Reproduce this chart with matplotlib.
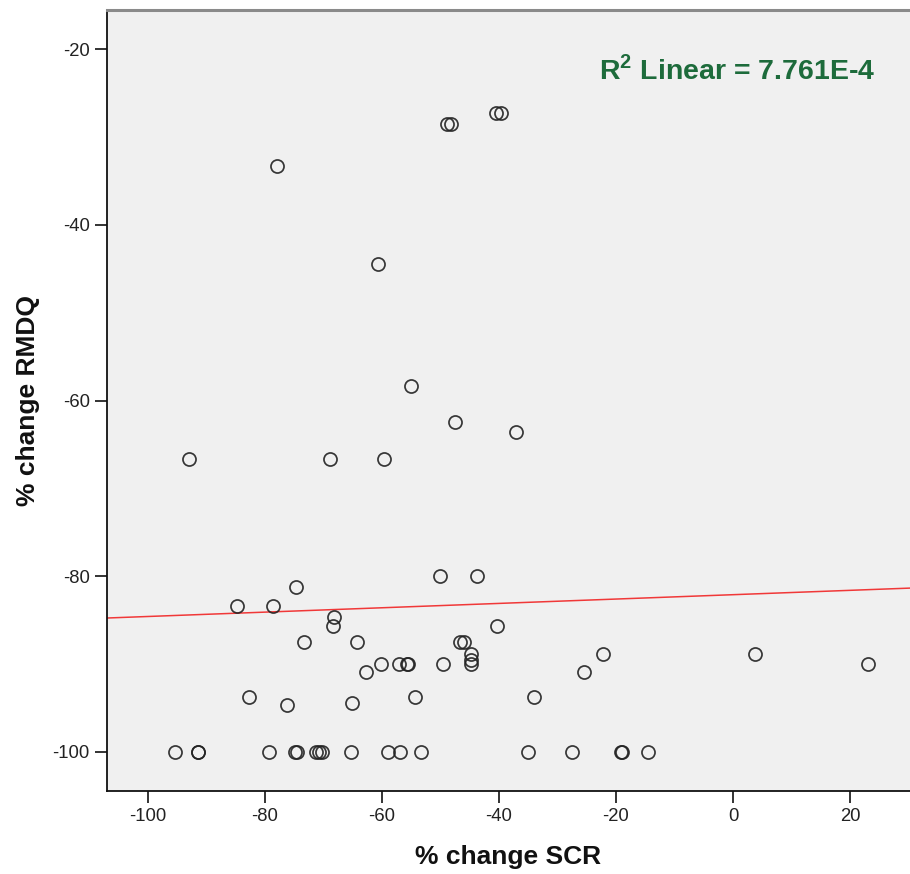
import matplotlib
matplotlib.use("Agg")
import matplotlib.pyplot as plt
import numpy as np

# ---- data ----
scr_change = [
    -50.1, -43.8, -74.7, -84.8, -78.6, -68.2, -68.4, -73.3, -64.3, -40.4,
    -46.7, -45.9, -44.8, -44.8, -44.7, -60.2, -57.1, -55.7, -55.5, -49.5,
    -62.8, -82.8, -76.2, -65.2, -54.3, -95.4, -91.5, -91.4, -79.3, -74.8,
    -74.6, -71.3, -70.7, -70.3, -65.3, -59.0, -56.9, -53.4, -22.2, -25.4,
    -34.0, 3.8, 23.1, -35.0, -27.5, -19.1, -19.0, -14.6, -77.9, -60.7,
    -55.0, -47.5, -37.1, -93.0, -68.9, -59.7, -48.9, -48.2, -40.5, -39.6,
]
rmdq_change = [
    -80.0, -80.0, -81.25, -83.33, -83.33, -84.6, -85.71, -87.5, -87.5, -85.71,
    -87.5, -87.5, -88.89, -89.5, -90.0, -90.0, -90.0, -90.0, -90.0, -90.0,
    -90.91, -93.75, -94.7, -94.44, -93.75, -100, -100, -100, -100, -100,
    -100, -100, -100, -100, -100, -100, -100, -100, -88.89, -90.91,
    -93.75, -88.89, -90.0, -100, -100, -100, -100, -100, -33.33, -44.44,
    -58.33, -62.5, -63.64, -66.67, -66.67, -66.67, -28.57, -28.57, -27.27, -27.27,
]
fit_intercept = -82.1
fit_slope = 0.0248
r2_label = "R$^2$ Linear = 7.761E-4"
x_label = "% change SCR"
y_label = "% change RMDQ"
x_ticks = [-100, -80, -60, -40, -20, 0, 20]
y_ticks = [-100, -80, -60, -40, -20]

plt.rcParams['font.family'] = ['Liberation Sans', 'DejaVu Sans']
plt.rcParams['axes.unicode_minus'] = False
plt.rcParams['mathtext.fontset'] = 'custom'
plt.rcParams['mathtext.rm'] = 'Liberation Sans:bold'
plt.rcParams['mathtext.bf'] = 'Liberation Sans:bold'

fig = plt.figure(figsize=(9.10, 8.74), dpi=100)
ax = fig.add_axes([107/910, (874-791)/874, 1 - 107/910, (791-10)/874])
ax.set_facecolor('#f0f0f0')

ax.plot(scr_change, rmdq_change, linestyle='none', marker='o', markersize=9.4,
        markerfacecolor='none', markeredgecolor='#222222', markeredgewidth=1.25,
        alpha=0.9, zorder=3)

ax.axline((0, fit_intercept), slope=fit_slope, color='#f03838', lw=1.1, zorder=2)

ax.set_xlim(-107.0, 30.26)
ax.set_ylim(-104.44, -15.56)
ax.set_xticks(x_ticks)
ax.set_yticks(y_ticks)
ax.tick_params(axis='both', direction='out', length=8.5, width=1.2,
               labelsize=13.3, colors='#111111', pad=4)
for lbl in ax.get_xticklabels() + ax.get_yticklabels():
    lbl.set_color('#222222')

for s in ['left', 'bottom']:
    ax.spines[s].set_color('#111111')
    ax.spines[s].set_linewidth(1.3)
ax.spines['right'].set_visible(False)
ax.spines['top'].set_color('#8a8a8a')
ax.spines['top'].set_linewidth(2.2)

ax.set_xlabel(x_label, fontsize=19, fontweight='bold', labelpad=14, color='#111111')
ax.set_ylabel(y_label, fontsize=19, fontweight='bold', labelpad=9, color='#111111')

ax.text(0.956, 0.9117, r2_label, transform=ax.transAxes, ha='right', va='baseline',
        fontsize=20.5, fontweight='bold', color='#1d6b3b')

fig.savefig('out.png', dpi=100, facecolor='white')
